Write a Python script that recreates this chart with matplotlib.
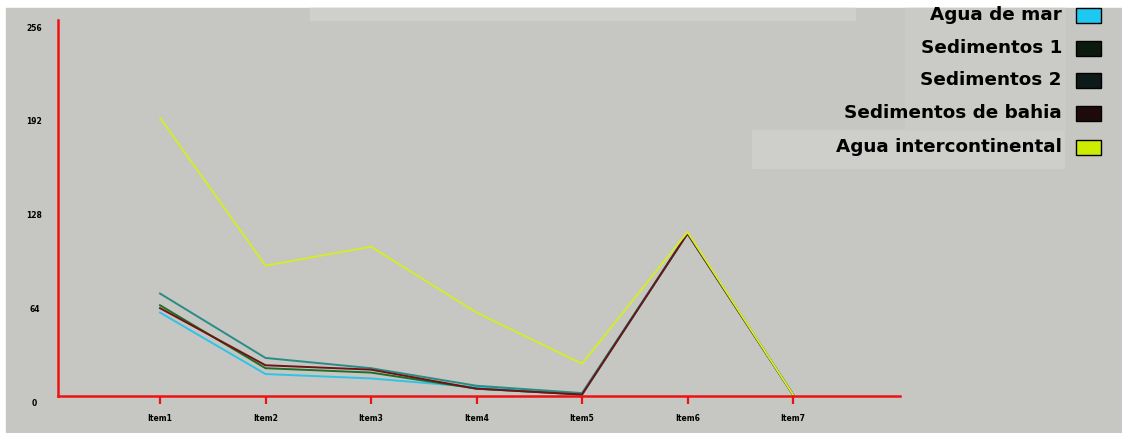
import matplotlib
matplotlib.use("Agg")
import matplotlib.pyplot as plt
import matplotlib.transforms as mtransforms
from matplotlib.patches import Rectangle

categories = ["Item1", "Item2", "Item3", "Item4", "Item5", "Item6", "Item7"]
y_ticks = [0, 64, 128, 192, 256]

agua_de_mar = [57, 15, 12, 6, 1, 111, 1]
sedimentos_1 = [62, 19, 16, 5, 1, 111, 1]
sedimentos_2 = [70, 26, 19, 7, 2, 111, 1]
sedimentos_bahia = [60, 21, 18, 5, 1, 111, 1]
agua_intercontinental = [190, 89, 102, 57, 22, 112, 1]

series_names = ["Agua de mar", "Sedimentos 1", "Sedimentos 2",
                "Sedimentos de bahia", "Agua intercontinental"]
series_values = [agua_de_mar, sedimentos_1, sedimentos_2,
                 sedimentos_bahia, agua_intercontinental]
line_colors = ["#2ec4e6", "#1f6e2a", "#2a8c86", "#6e1414", "#d4ec2c"]
swatch_colors = ["#1fc8f0", "#0c1a0e", "#0e1a1a", "#1e0a0a", "#ccec00"]

W, H = 1122, 433
BG = "#c6c6c2"
fig = plt.figure(figsize=(W / 100, H / 100), dpi=100)
fig.patch.set_facecolor("white")

# gray canvas with a thin white border at top and left
fig.patches.append(Rectangle((6 / W, 0), 1 - 6 / W, (H - 8) / H,
                             transform=fig.transFigure, color=BG, zorder=-5))
# lighter title band and legend panel
fig.patches.append(Rectangle((310 / W, (H - 20) / H), 545 / W, 12 / H,
                             transform=fig.transFigure, color="#cfcfcb", zorder=-4))
fig.patches.append(Rectangle((752 / W, (H - 168) / H), 312 / W, 38 / H,
                             transform=fig.transFigure, color="#cecfcb", zorder=-4))
fig.patches.append(Rectangle((905 / W, (H - 130) / H), 160 / W, 122 / H,
                             transform=fig.transFigure, color="#cacac6", zorder=-4))

x0, x1 = 58, 900
y_bottom, y_top = 396, 20
ax = fig.add_axes([x0 / W, (H - y_bottom) / H, (x1 - x0) / W, (y_bottom - y_top) / H])
ax.set_zorder(2)
ax.patch.set_alpha(0)

xs = list(range(1, len(categories) + 1))
for name, vals, col in zip(series_names, series_values, line_colors):
    ax.plot(xs, vals, color=col, lw=1.4, label=name, solid_joinstyle="miter",
            clip_on=False)

ax.set_xlim(1 - (160 - x0) / 105.5, 1 + (x1 - 160) / 105.5)
ax.set_ylim(0, (y_bottom - y_top) / 1.464)

for side in ["top", "right"]:
    ax.spines[side].set_visible(False)
for side in ["left", "bottom"]:
    ax.spines[side].set_color("#ee1111")
    ax.spines[side].set_linewidth(1.8)

ax.set_xticks(xs)
ax.set_xticklabels(categories, fontsize=5.5, fontweight="bold", color="black")
ax.tick_params(axis="x", colors="#ee1111", length=6, width=1.6, pad=7,
               labelcolor="black")
ax.set_yticks(y_ticks)
ax.set_yticklabels([str(v) for v in y_ticks], fontsize=5.5, fontweight="bold",
                   color="black", va="center", ha="center")
ax.tick_params(axis="y", length=0, pad=17)
shift = mtransforms.ScaledTranslation(0, -7 / 100, fig.dpi_scale_trans)
for lbl in ax.get_yticklabels():
    lbl.set_transform(lbl.get_transform() + shift)

# legend: right-aligned labels with square swatches
rows_y = [15, 48, 80, 113, 147]
for name, col, ry in zip(series_names, swatch_colors, rows_y):
    fig.text(1062 / W, (H - ry) / H, name, ha="right", va="center",
             fontsize=13.2, fontweight="heavy", family="DejaVu Sans", color="black",
             zorder=3)
    fig.patches.append(Rectangle((1076 / W, (H - ry - 8) / H), 25 / W, 15 / H,
                                 transform=fig.transFigure, facecolor=col,
                                 edgecolor="black", lw=1.0, zorder=3))

fig.savefig("out.png", dpi=100, facecolor=fig.get_facecolor())
